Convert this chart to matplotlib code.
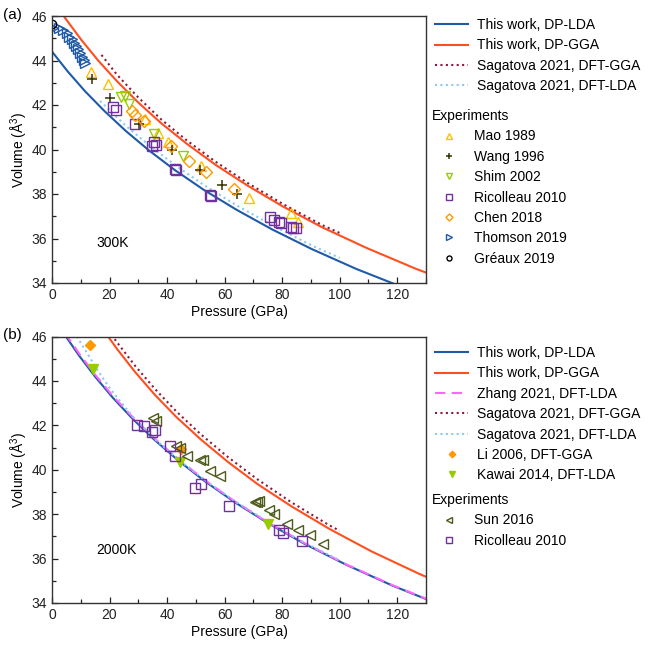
import numpy as np
import matplotlib
matplotlib.use("Agg")
import matplotlib.pyplot as plt
from matplotlib.ticker import MultipleLocator

plt.rcParams['font.family'] = ['Liberation Sans', 'DejaVu Sans']
plt.rcParams['mathtext.fontset'] = 'custom'
plt.rcParams['mathtext.rm'] = 'Liberation Sans'

# ---------------- panel (a) 300 K ----------------
a_lda_p = [0, 5.45, 11.47, 18.14, 25.51, 33.69, 42.76, 52.84, 64.03, 76.49, 90.38, 105.81, 123.24]
a_lda_v = [44.40, 43.51, 42.62, 41.74, 40.85, 39.96, 39.07, 38.18, 37.30, 36.41, 35.52, 34.63, 33.74]
a_gga_p = [0, 4.84, 10.18, 16.11, 22.65, 29.92, 37.97, 46.93, 56.86, 67.93, 80.26, 93.96, 109.44, 126.65, 146.02]
a_gga_v = [46.80, 45.86, 44.93, 43.99, 43.06, 42.12, 41.18, 40.25, 39.31, 38.38, 37.44, 36.50, 35.57, 34.63, 33.70]
a_sgga_p = [17.2, 22.65, 29.92, 37.97, 46.93, 56.86, 67.93, 80.26, 93.96, 100]
a_sgga_v = [44.25, 43.35, 42.35, 41.35, 40.40, 39.45, 38.50, 37.55, 36.60, 36.25]
a_slda_p = [16.7, 18.14, 25.51, 33.69, 42.76, 52.84, 64.03, 76.49, 90.38, 100]
a_slda_v = [42.18, 42.00, 41.08, 40.20, 39.30, 38.40, 37.50, 36.60, 35.68, 35.13]

mao_p = [13.4, 19.3, 32.3, 36.9, 40.3, 51.9, 68.4, 83.1, 85.4]
mao_v = [43.50, 42.94, 41.35, 40.73, 40.35, 39.26, 37.83, 37.13, 36.76]
wang_p = [13.9, 20.2, 30.3, 41.6, 51.5, 59.2, 64.2]
wang_v = [43.17, 42.30, 41.15, 39.98, 39.08, 38.40, 37.99]
shim_p = [24.0, 25.3, 26.6, 35.6, 45.4]
shim_v = [42.37, 42.40, 42.05, 40.68, 39.71]
ric_a_p = [21.1, 22.2, 28.9, 34.9, 35.6, 36.0, 42.6, 43.0, 54.8, 55.3, 75.8, 77.3, 78.8, 79.6, 83.1, 83.9, 84.8]
ric_a_v = [41.92, 41.78, 41.13, 40.17, 40.35, 40.20, 39.11, 39.08, 37.95, 37.92, 36.95, 36.85, 36.76, 36.70, 36.53, 36.49, 36.49]
chen_p = [27.9, 28.8, 31.9, 41.2, 47.6, 53.6, 63.2]
chen_v = [41.75, 41.55, 41.30, 40.15, 39.48, 39.00, 38.21]
thom_p = [0.5, 2.5, 3.9, 5.1, 6.0, 6.8, 7.6, 8.3, 9.1, 9.7, 10.3, 11.1, 11.4]
thom_v = [45.45, 45.45, 45.37, 45.22, 45.07, 44.95, 44.80, 44.65, 44.50, 44.32, 44.17, 44.02, 43.90]
greaux_p = [0.0]
greaux_v = [45.62]

# ---------------- panel (b) 2000 K ----------------
b_lda_p = [0, 4.52, 9.52, 15.06, 21.17, 27.97, 35.50, 43.87, 53.15, 63.50, 75.03, 87.84, 102.30, 118.39, 136.50]
b_lda_v = [47.00, 46.06, 45.12, 44.18, 43.24, 42.30, 41.36, 40.42, 39.48, 38.54, 37.60, 36.66, 35.72, 34.78, 33.84]
b_gga_p = [12.26, 17.24, 22.77, 28.89, 35.71, 43.26, 51.68, 61.07, 71.49, 83.27, 96.37, 111.11, 127.69, 136.75]
b_gga_v = [47.42, 46.41, 45.41, 44.40, 43.38, 42.37, 41.37, 40.36, 39.35, 38.35, 37.34, 36.32, 35.31, 34.81]
zhang_p = [4.52, 9.52, 15.06, 21.17, 27.97, 35.50, 43.87, 53.15, 63.50, 75.03, 87.84, 102.30, 118.39, 136.50]
zhang_v = [46.16, 45.22, 44.27, 43.32, 42.38, 41.43, 40.48, 39.53, 38.58, 37.63, 36.69, 35.74, 34.80, 33.86]
b_sgga_p = [20.7, 22.77, 28.89, 35.71, 43.26, 51.68, 61.07, 71.49, 83.27, 96.37, 100]
b_sgga_v = [46.08, 45.71, 44.68, 43.65, 42.62, 41.60, 40.58, 39.56, 38.53, 37.50, 37.25]
b_slda_p = [8.6, 12.0, 16.0, 20.2, 28.0, 35.5, 43.87, 53.15, 63.50, 75.03, 87.84, 100]
b_slda_v = [46.00, 45.30, 44.45, 43.65, 42.40, 41.41, 40.47, 39.53, 38.59, 37.65, 36.71, 35.92]

li_p = [13.2, 45.0]
li_v = [45.60, 40.95]
kawai_p = [14.1, 44.4, 75.0]
kawai_v = [44.53, 40.37, 37.57]
sun_p = [35.2, 36.0, 43.2, 44.4, 47.0, 51.4, 52.6, 54.8, 58.4, 70.4, 71.2, 72.1, 75.3, 77.0, 81.6, 85.4, 89.7, 94.3]
sun_v = [42.35, 42.20, 41.08, 40.98, 40.63, 40.43, 40.45, 39.95, 39.70, 38.53, 38.55, 38.58, 38.20, 38.02, 37.57, 37.27, 37.08, 36.67]
ric_b_p = [29.6, 31.9, 34.6, 35.7, 40.9, 42.6, 49.6, 51.9, 61.4, 79.0, 80.2, 86.8]
ric_b_v = [42.02, 41.98, 41.68, 41.77, 41.08, 40.63, 39.20, 39.36, 38.35, 37.30, 37.15, 36.80]

c_lda = '#1F5AA6'
c_gga = '#FF4F1F'
c_sgga = '#8B1A3A'
c_slda = '#8CC8F2'
c_zhang = '#FF66FF'
c_mao = '#FFC000'
c_wang = '#333300'
c_shim = '#99CC00'
c_ric = '#7030A0'
c_chen = '#FF9900'
c_sun = '#4D5A1A'

W, H = 658, 646
fig = plt.figure(figsize=(W / 100, H / 100), dpi=100)
ax1 = fig.add_axes([52 / W, 1 - 283 / H, 374 / W, 267 / H])
ax2 = fig.add_axes([52 / W, 1 - 603 / H, 374 / W, 266.5 / H])

lw = 1.5
dot = (0, (1, 1.6))
ms = 6.5


def style(ax, label):
    ax.set_xlim(0, 130)
    ax.set_ylim(34, 46)
    ax.xaxis.set_major_locator(MultipleLocator(20))
    ax.xaxis.set_minor_locator(MultipleLocator(10))
    ax.yaxis.set_major_locator(MultipleLocator(2))
    ax.yaxis.set_minor_locator(MultipleLocator(1))
    ax.tick_params(which='both', direction='in', top=False, right=False,
                   labelsize=10, colors='#222222', width=0.9)
    ax.tick_params(which='major', length=4)
    ax.tick_params(which='minor', length=3)
    for s in ax.spines.values():
        s.set_color('#333333')
        s.set_linewidth(1.0)
    ax.set_xlabel('Pressure (GPa)', fontsize=10, labelpad=2)
    ax.set_ylabel('Volume (Å$^3$)', fontsize=10, labelpad=1)
    fig.text(3 / W, ax.get_position().y1 + 0.002, label, fontsize=11, va='center')


# panel (a)
l1, = ax1.plot(a_lda_p, a_lda_v, color=c_lda, lw=lw, label='This work, DP-LDA')
l2, = ax1.plot(a_gga_p, a_gga_v, color=c_gga, lw=lw, label='This work, DP-GGA')
l3, = ax1.plot(a_sgga_p, a_sgga_v, color=c_sgga, lw=lw, ls=dot, label='Sagatova 2021, DFT-GGA')
l4, = ax1.plot(a_slda_p, a_slda_v, color=c_slda, lw=lw, ls=dot, label='Sagatova 2021, DFT-LDA')
m1, = ax1.plot(mao_p, mao_v, ls='none', marker='^', ms=ms + 0.5, mfc='none', mec=c_mao, mew=1, label='Mao 1989')
m2, = ax1.plot(wang_p, wang_v, ls='none', marker='+', ms=ms + 1, mec=c_wang, mew=1.1, label='Wang 1996')
m3, = ax1.plot(shim_p, shim_v, ls='none', marker='v', ms=ms + 0.5, mfc='none', mec=c_shim, mew=1, label='Shim 2002')
m4, = ax1.plot(ric_a_p, ric_a_v, ls='none', marker='s', ms=ms, mfc='none', mec=c_ric, mew=1, label='Ricolleau 2010')
m5, = ax1.plot(chen_p, chen_v, ls='none', marker='D', ms=ms - 0.5, mfc='none', mec=c_chen, mew=1, label='Chen 2018')
m6, = ax1.plot(thom_p, thom_v, ls='none', marker='>', ms=ms, mfc='none', mec=c_lda, mew=1, label='Thomson 2019')
m7, = ax1.plot(greaux_p, greaux_v, ls='none', marker='o', ms=ms - 0.5, mfc='none', mec='black', mew=1, label='Gréaux 2019')
ax1.text(15.5, 35.8, '300K', fontsize=10, va='center')
style(ax1, '(a)')

leg_kw = dict(frameon=False, fontsize=10, handlelength=2.4, handletextpad=0.65,
              labelspacing=0.46, borderpad=0, borderaxespad=0, markerscale=0.6)
lg1 = fig.legend(handles=[l1, l2, l3, l4], loc='upper left',
                 bbox_to_anchor=(435 / W, 1 - 18 / H), **leg_kw)
lg2 = fig.legend(handles=[m1, m2, m3, m4, m5, m6, m7], loc='upper left', title='Experiments',
                 title_fontsize=10, alignment='left',
                 bbox_to_anchor=(432 / W, 1 - 109 / H), **leg_kw)

# panel (b)
n1, = ax2.plot(b_lda_p, b_lda_v, color=c_lda, lw=lw, label='This work, DP-LDA')
n2, = ax2.plot(b_gga_p, b_gga_v, color=c_gga, lw=lw, label='This work, DP-GGA')
n3, = ax2.plot(zhang_p, zhang_v, color=c_zhang, lw=lw, ls=(0, (5, 3)), label='Zhang 2021, DFT-LDA')
n4, = ax2.plot(b_sgga_p, b_sgga_v, color=c_sgga, lw=lw, ls=dot, label='Sagatova 2021, DFT-GGA')
n5, = ax2.plot(b_slda_p, b_slda_v, color=c_slda, lw=lw, ls=dot, label='Sagatova 2021, DFT-LDA')
n6, = ax2.plot(li_p, li_v, ls='none', marker='D', ms=ms - 1, color=c_chen, label='Li 2006, DFT-GGA')
n7, = ax2.plot(kawai_p, kawai_v, ls='none', marker='v', ms=ms + 0.5, color=c_shim, label='Kawai 2014, DFT-LDA')
k1, = ax2.plot(sun_p, sun_v, ls='none', marker='<', ms=ms + 0.5, mfc='none', mec=c_sun, mew=1, label='Sun 2016')
k2, = ax2.plot(ric_b_p, ric_b_v, ls='none', marker='s', ms=ms, mfc='none', mec=c_ric, mew=1, label='Ricolleau 2010')
ax2.text(15.5, 36.4, '2000K', fontsize=10, va='center')
style(ax2, '(b)')

lg3 = fig.legend(handles=[n1, n2, n3, n4, n5, n6, n7], loc='upper left',
                 bbox_to_anchor=(435 / W, 1 - 346 / H), **leg_kw)
lg4 = fig.legend(handles=[k1, k2], loc='upper left', title='Experiments',
                 title_fontsize=10, alignment='left',
                 bbox_to_anchor=(432 / W, 1 - 493 / H), **leg_kw)

fig.savefig('out.png', dpi=100)
